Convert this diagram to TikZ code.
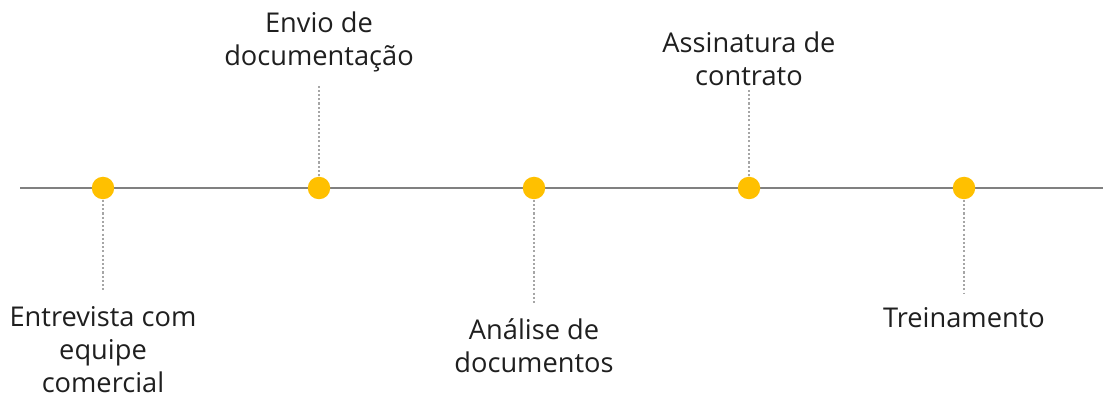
\documentclass[tikz,border=0pt]{standalone}
\usepackage{fontspec}
\setmainfont{Open Sans}
\usetikzlibrary{positioning}

\definecolor{dotyellow}{HTML}{FFC000}
\definecolor{linegray}{HTML}{808080}
\definecolor{stemgray}{HTML}{A6A6A6}

\begin{document}
\begin{tikzpicture}[x=0.02cm,y=-0.02cm,semithick]
  \tikzstyle{milestone}=[circle,fill=dotyellow,inner sep=0pt,minimum size=0.45cm]
  \tikzstyle{stem}=[draw=stemgray,line width=0.6pt,dash pattern=on 1.2pt off 1.2pt]
  \tikzstyle{caption}=[align=center,inner sep=0pt,font=\fontsize{15.5}{18.8}\selectfont,text=black!88]

  \useasboundingbox (0,0) rectangle (1103,398);

  \coordinate (start) at (20,188);
  \coordinate (end)   at (1103,188);
  \draw[linegray,line width=1.6pt] (start) -- (end);

  \node[milestone] (A) at (103,188) {};
  \node[milestone] (B) at (319,188) {};
  \node[milestone] (C) at (534,188) {};
  \node[milestone] (D) at (749,188) {};
  \node[milestone] (E) at (964,188) {};

  \coordinate (a) at (103,292);
  \coordinate (b) at (319,85);
  \coordinate (c) at (534,305);
  \coordinate (d) at (749,90);
  \coordinate (e) at (964,293);

  \path[stem] (A) -- (a)
              (B) -- (b)
              (C) -- (c)
              (D) -- (d)
              (E) -- (e);

  \node[caption,anchor=north] (Atext) at (103,306) {Entrevista com\\equipe\\comercial};
  \node[caption,anchor=south] (Btext) at (319,73)  {Envio de\\documentação};
  \node[caption,anchor=north] (Ctext) at (534,318) {Análise de\\documentos};
  \node[caption,anchor=south] (Dtext) at (749,86)  {Assinatura de\\contrato};
  \node[caption,anchor=north] (Etext) at (964,307) {Treinamento};
\end{tikzpicture}
\end{document}
